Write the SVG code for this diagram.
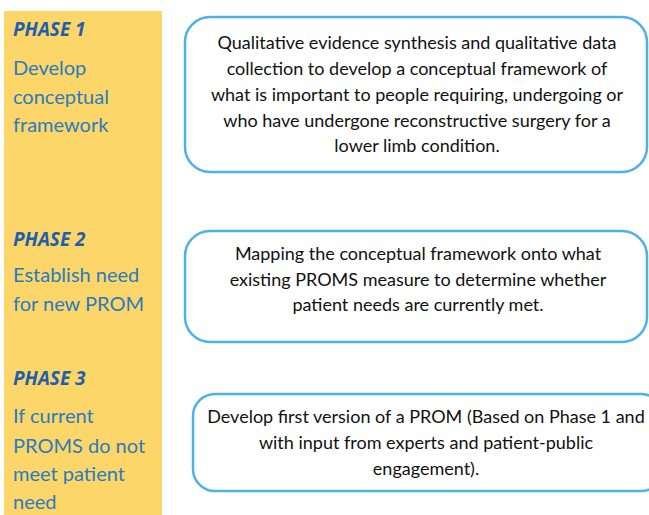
<svg xmlns="http://www.w3.org/2000/svg" width="649" height="515" viewBox="0 0 649 515">
<style>
.col{fill:#FCD668}
.ph{font-family:"Open Sans",Lato,sans-serif;font-size:19px;font-weight:bold;font-style:italic;fill:#1F5FAC}
.lb{font-family:Lato,"Open Sans",sans-serif;font-size:20px;fill:#2A7BC2}
.box{fill:#FFFFFF;stroke:#4DB3E6;stroke-width:2.5}
.bt{font-family:Lato,"Open Sans",sans-serif;font-size:18px;fill:#111111;text-anchor:middle}
</style>
<rect width="649" height="515" fill="#FFFFFF"/>
<rect class="col" x="4" y="11" width="158" height="504"/>
<g id="phase1-label">
<text class="ph" x="13" y="36">PHASE 1</text>
<text class="lb" x="13" y="75">Develop</text>
<text class="lb" x="13" y="104">conceptual</text>
<text class="lb" x="13" y="132">framework</text>
</g>
<g id="phase2-label">
<text class="ph" x="13" y="246">PHASE 2</text>
<text class="lb" x="13" y="282">Establish need</text>
<text class="lb" x="13" y="311">for new PROM</text>
</g>
<g id="phase3-label">
<text class="ph" x="13" y="385">PHASE 3</text>
<text class="lb" x="13" y="423">If current</text>
<text class="lb" x="13" y="453">PROMS do not</text>
<text class="lb" x="13" y="481">meet patient</text>
<text class="lb" x="13" y="509">need</text>
</g>
<g id="box1">
<rect class="box" x="185" y="17" width="462" height="155" rx="25"/>
<text class="bt" x="417" y="49">Qualitative evidence synthesis and qualitative data</text>
<text class="bt" x="417" y="75">collection to develop a conceptual framework of</text>
<text class="bt" x="417" y="101">what is important to people requiring, undergoing or</text>
<text class="bt" x="417" y="127">who have undergone reconstructive surgery for a</text>
<text class="bt" x="417" y="152">lower limb condition.</text>
</g>
<g id="box2">
<rect class="box" x="185" y="231" width="462" height="111" rx="25"/>
<text class="bt" x="418" y="260">Mapping the conceptual framework onto what</text>
<text class="bt" x="418" y="286">existing PROMS measure to determine whether</text>
<text class="bt" x="418" y="311">patient needs are currently met.</text>
</g>
<g id="box3">
<rect class="box" x="193" y="394" width="470" height="97" rx="22"/>
<text class="bt" x="426" y="423">Develop first version of a PROM (Based on Phase 1 and</text>
<text class="bt" x="426" y="449">with input from experts and patient-public</text>
<text class="bt" x="426" y="475">engagement).</text>
</g>
<g id="connectors"/>
</svg>
